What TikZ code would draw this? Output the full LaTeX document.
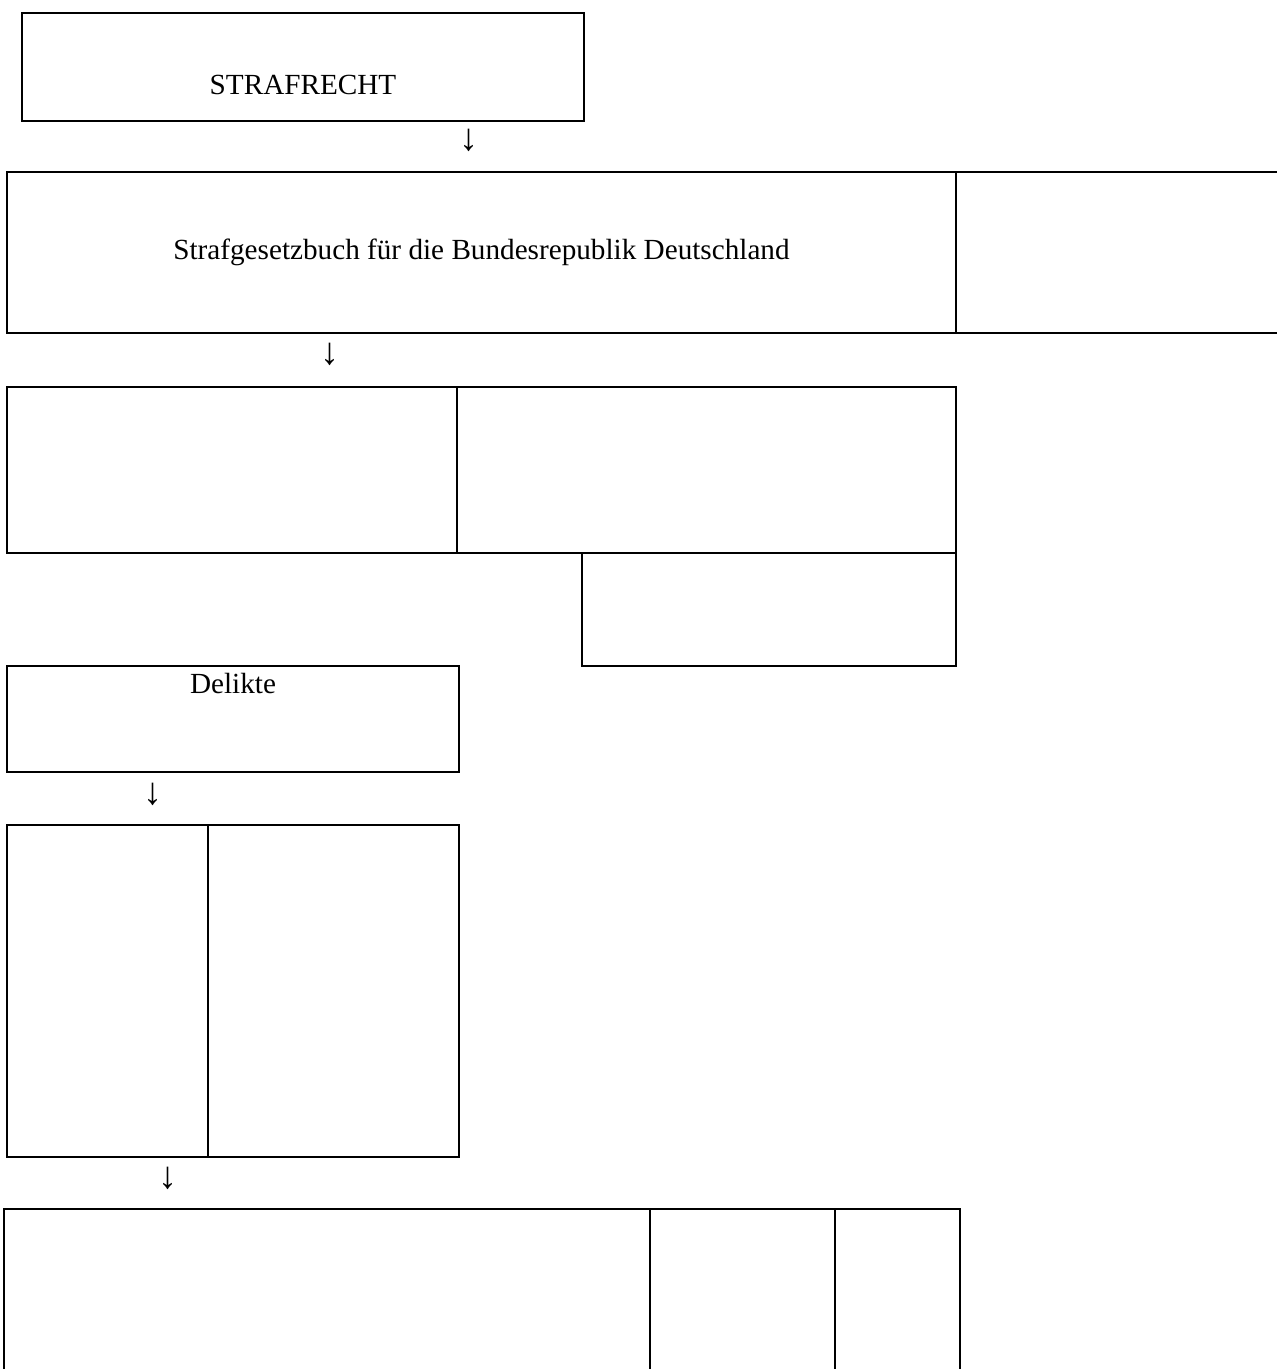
\documentclass[tikz,border=0pt]{standalone}
\usepackage{fontspec}
\setmainfont{Liberation Serif}
\usetikzlibrary{positioning}

\tikzset{
  feld/.style 2 args={rectangle, draw, line width=1pt, anchor=north west,
    inner sep=0pt, outer sep=0pt, minimum width=#1*0.5pt, minimum height=#2*0.5pt},
  pfeil/.style={inner sep=0pt, font=\fontsize{19}{21}\selectfont},
}

\begin{document}
\begin{tikzpicture}[x=0.5pt, y=-0.5pt, font=\fontsize{14.6}{17.5}\selectfont]
  \useasboundingbox (0,0) rectangle (1277,1369);
  \clip (0,0) rectangle (1277,1369);

  % Kopf
  \node[feld={562}{108}] (strafrecht) at (22,13) {};
  \node[anchor=base] (strafrechttext) at ([yshift=13pt]strafrecht.south) {STRAFRECHT};
  \node[pfeil] (pfeilA) at (469,140) {↓};

  \node[feld={949}{161}] (gesetz) at (7,172) {Strafgesetzbuch für die Bundesrepublik Deutschland};
  \node[feld={400}{161}] (gesetzrechts) at (gesetz.north east) {};
  \node[pfeil] (pfeilB) at (330,354) {↓};

  % Teile
  \node[feld={450}{166}] (teilA) at (7,387) {};
  \node[feld={499}{166}] (teilB) at (teilA.north east) {};
  \node[feld={374}{113}, anchor=north east] (unterB) at (teilB.south east) {};

  \node[feld={452}{106}] (delikte) at (7,666) {};
  \node[anchor=base] (deliktetext) at ([yshift=-13.5pt]delikte.north) {Delikte};
  \node[pfeil] (pfeilC) at (153,794) {↓};

  \node[feld={201}{332}] (artA) at (7,825) {};
  \node[feld={251}{332}] (artB) at (artA.north east) {};
  \node[pfeil] (pfeilD) at (168,1178) {↓};

  % Folgen
  \node[feld={646}{220}] (folgeA) at (4,1209) {};
  \node[feld={185}{220}] (folgeB) at (folgeA.north east) {};
  \node[feld={125}{220}] (folgeC) at (folgeB.north east) {};
\end{tikzpicture}
\end{document}
